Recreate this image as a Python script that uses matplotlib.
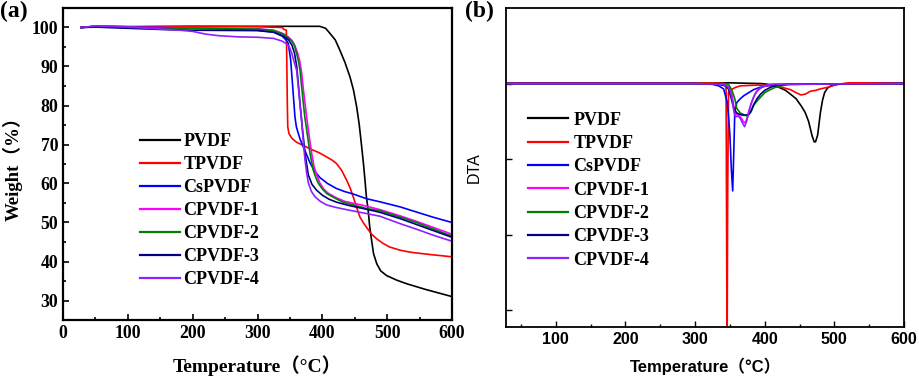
import matplotlib
matplotlib.use("Agg")
import matplotlib.pyplot as plt
from matplotlib.ticker import MultipleLocator, FixedLocator, NullFormatter

# ---------------- data: TGA (panel a) ----------------
labels = ["PVDF", "TPVDF", "CsPVDF", "CPVDF-1", "CPVDF-2", "CPVDF-3", "CPVDF-4"]
colors = ["#000000", "#ff0000", "#0000ff", "#ff00ff", "#008000", "#000080", "#9020ff"]

tga_T_pvdf = [28, 50, 100, 200, 300, 396, 405, 411.7, 420, 427, 435, 442.7, 448, 453, 457, 460.7, 463.5,
              465.8, 468, 470.5, 473, 476, 479, 484, 490, 499, 515, 530, 560, 600]
tga_W_pvdf = [100, 100.3, 100.2, 100.3, 100.3, 100.3, 99.8, 98.5, 96.8, 94.2, 91, 87.3, 84, 79.6, 75,
              69.4, 65, 60.8, 56.5, 53.5, 49, 45.4, 42, 39.4, 37.6, 36.4, 35.2, 34.3, 32.8, 31.0]

tga_T_tpvdf = [28, 50, 100, 200, 300, 338, 341, 344.5, 345.3, 346, 346.7, 348.5, 353, 360, 370, 381, 395,
               406.7, 415, 422, 430, 437.6, 443, 447.8, 453, 458, 463, 468, 476, 484, 494, 504, 520, 535,
               560, 600]
tga_W_tpvdf = [100, 100.3, 100.2, 100.3, 100.2, 100.0, 99.5, 99.3, 90, 80, 74.5, 72.8, 71.6, 70.6, 69.8,
               68.9, 67.9, 66.8, 66, 65.1, 63.3, 60.8, 58.8, 56.5, 53.8, 51.4, 50, 48.8, 47, 45.8, 44.6,
               43.7, 42.9, 42.4, 41.9, 41.2]

tga_T_cs = [28, 50, 100, 150, 200, 250, 300, 325, 338, 344, 347.5, 351.2, 354.3, 357.8, 360, 363, 366,
            370.7, 376, 381, 388, 396.4, 408, 422, 435, 447.8, 468, 489, 520, 545, 570, 600]
tga_W_cs = [100, 100.3, 100.2, 100, 99.8, 99.6, 99.3, 98.8, 97.8, 96.8, 95.9, 91.6, 84.8, 77, 74.5,
            72.8, 71.2, 69.4, 67.3, 65.3, 63.2, 61.5, 60.0, 58.7, 57.9, 57.3, 56.1, 55.3, 54, 52.7,
            51.4, 50.0]

tga_T_c1 = [28, 50, 100, 200, 300, 325, 340, 348, 353, 357, 362, 365, 368, 370.5, 373.3, 376, 379,
            383.6, 387, 391, 396, 402, 409, 422, 435, 460, 489, 520, 545, 570, 600]
tga_W_c1 = [100, 100.3, 100.1, 99.9, 99.7, 99.3, 98.4, 97.5, 96.7, 95.6, 93.4, 91.5, 88.5, 84.5, 80.5,
            76.8, 73, 67.7, 64.5, 62.3, 60.2, 58.6, 57.5, 56.3, 55.4, 54.5, 53.3, 51.7, 50.3, 48.8, 47.0]

tga_T_c2 = [28, 50, 100, 200, 300, 325, 340, 348, 353, 357, 360.4, 363, 365.6, 368, 370.7, 373, 376,
            381, 386, 390, 394, 400, 407, 420, 432, 468, 489, 520, 545, 570, 600]
tga_W_c2 = [100, 100.2, 100, 99.8, 99.6, 99.2, 98.3, 97.3, 96.5, 95.3, 93.3, 91.5, 89, 85, 80.5, 77,
            73.6, 67.7, 63.4, 61.5, 60, 58.6, 57.4, 56.2, 55.2, 53.6, 53.0, 51.4, 50, 48.4, 46.5]

tga_T_c3 = [28, 50, 100, 150, 200, 300, 325, 340, 348, 353, 357, 360.5, 363, 365.6, 369, 373.3, 378.4,
            384, 391, 400, 410, 422, 440, 468, 489, 520, 545, 570, 600]
tga_W_c3 = [100, 100.1, 99.8, 99.5, 99.3, 99.2, 98.8, 97.8, 96.8, 95.5, 93.5, 90, 85.5, 80.5, 74.5,
            67.7, 62.2, 59.8, 58.3, 57, 56, 55.2, 54.4, 53.4, 52.6, 51, 49.5, 48, 46.2]

tga_T_c4 = [28, 50, 100, 150, 180, 200, 220, 240, 270, 300, 325, 338, 345, 349, 352.7, 356, 360.4, 364,
            368, 371, 373.3, 376, 378.4, 383, 388.7, 397, 406.7, 420, 440, 468, 489, 520, 545, 570, 600]
tga_W_c4 = [100, 100.4, 100.1, 99.6, 99.3, 99.0, 98.3, 97.9, 97.6, 97.5, 97.2, 96.5, 95.8, 95, 93.5,
            91.5, 89, 83, 76.2, 70, 66, 62.5, 60.2, 58, 56.6, 55.4, 54.5, 53.9, 53.2, 52.3, 51.6, 49.7,
            48.3, 46.8, 45.2]

# ---------------- data: DTA (panel b) ----------------
dta_T_pvdf = [30, 100, 200, 300, 350, 395, 405, 415, 423, 430, 437, 445, 452, 458, 463, 468, 471, 473,
              476, 480, 483, 486, 490, 495, 505, 520, 600]
dta_D_pvdf = [0.01, 0.01, 0.01, 0.01, 0.01, 0.0, -0.01, -0.03, -0.06, -0.09, -0.14, -0.2, -0.29,
              -0.38, -0.5, -0.69, -0.77, -0.77, -0.68, -0.38, -0.22, -0.12, -0.06, -0.03, -0.01, 0.0, 0.0]

dta_T_tpvdf = [30, 100, 200, 300, 330, 343, 344.5, 345.3, 346, 346.8, 348, 352, 358, 365, 390, 413, 425,
               437, 445, 452, 458, 466, 473, 480, 490, 504, 520, 600]
dta_D_tpvdf = [0.01, 0.01, 0.01, 0.01, 0.01, 0.0, -0.05, -2.0, -3.6, -1.5, -0.12, -0.08, -0.05, -0.03,
               -0.02, -0.03, -0.05, -0.08, -0.12, -0.15, -0.14, -0.1, -0.09, -0.07, -0.05, -0.01, 0.01,
               0.01]

dta_T_cs = [30, 100, 200, 300, 325, 334, 341, 346, 348, 350, 352, 354, 355.6, 357, 360, 365, 370, 377,
            384, 393, 403, 415, 600]
dta_D_cs = [0.0, 0.0, 0.0, 0.0, -0.01, -0.03, -0.07, -0.24, -0.42, -0.68, -1.12, -1.42, -0.9, -0.38,
            -0.25, -0.2, -0.16, -0.12, -0.08, -0.05, -0.03, -0.01, 0.0]

dta_T_c1 = [30, 100, 200, 300, 342, 349, 353, 356, 358, 362, 366, 369, 372, 375, 378, 381, 385, 389,
            394, 400, 410, 600]
dta_D_c1 = [0.0, 0.0, 0.0, 0.0, -0.01, -0.05, -0.15, -0.32, -0.4, -0.42, -0.45, -0.5, -0.52, -0.45,
            -0.34, -0.25, -0.16, -0.1, -0.06, -0.03, -0.01, 0.0]

dta_T_c2 = [30, 100, 200, 300, 340, 348, 353, 357, 360, 365, 370, 375, 380, 384, 389, 394, 400, 408,
            415, 423, 435, 600]
dta_D_c2 = [0.0, 0.0, 0.0, 0.0, 0.0, -0.01, -0.09, -0.2, -0.33, -0.39, -0.41, -0.43, -0.38, -0.29,
            -0.23, -0.18, -0.12, -0.08, -0.05, -0.03, -0.01, 0.0]

dta_T_c3 = [30, 100, 200, 300, 335, 343, 348, 352, 355.6, 360, 365, 370, 377, 381, 384, 389, 394, 400,
            408, 418, 430, 600]
dta_D_c3 = [0.0, 0.0, 0.0, 0.0, -0.01, -0.03, -0.07, -0.2, -0.33, -0.39, -0.41, -0.42, -0.41, -0.35,
            -0.28, -0.2, -0.14, -0.09, -0.05, -0.02, -0.01, 0.0]

dta_T_c4 = [30, 100, 200, 300, 340, 347, 351, 354, 356, 358, 362, 365, 368, 371, 374, 377, 380, 384,
            387, 392, 398, 408, 600]
dta_D_c4 = [0.0, 0.0, 0.0, 0.0, -0.01, -0.04, -0.1, -0.25, -0.38, -0.44, -0.43, -0.46, -0.52, -0.57,
            -0.5, -0.38, -0.28, -0.18, -0.12, -0.07, -0.04, -0.01, 0.0]

tga_T = [tga_T_pvdf, tga_T_tpvdf, tga_T_cs, tga_T_c1, tga_T_c2, tga_T_c3, tga_T_c4]
tga_W = [tga_W_pvdf, tga_W_tpvdf, tga_W_cs, tga_W_c1, tga_W_c2, tga_W_c3, tga_W_c4]
dta_T = [dta_T_pvdf, dta_T_tpvdf, dta_T_cs, dta_T_c1, dta_T_c2, dta_T_c3, dta_T_c4]
dta_D = [dta_D_pvdf, dta_D_tpvdf, dta_D_cs, dta_D_c1, dta_D_c2, dta_D_c3, dta_D_c4]

xticks_a = [0, 100, 200, 300, 400, 500, 600]
yticks_a = [30, 40, 50, 60, 70, 80, 90, 100]
xticks_b = [100, 200, 300, 400, 500, 600]
yticks_b = [-3, -2, -1, 0]

SERIF = ["Liberation Serif", "Noto Sans CJK SC", "DejaVu Sans"]
SANS = ["Liberation Sans", "Noto Sans CJK SC", "DejaVu Sans"]

fig = plt.figure(figsize=(9.2, 3.78), dpi=100)
W, H = 920, 378
axa = fig.add_axes([63 / W, 1 - 320 / H, (452 - 63) / W, (320 - 8) / H])
axb = fig.add_axes([506 / W, 1 - 327 / H, (904 - 506) / W, (327 - 8) / H])

for T, Y, c, lab in zip(tga_T, tga_W, colors, labels):
    axa.plot(T, Y, color=c, lw=1.2, label=lab)
for T, Y, c, lab in zip(dta_T, dta_D, colors, labels):
    axb.plot(T, Y, color=c, lw=1.2, label=lab)

# panel a styling
axa.set_xlim(0, 600)
axa.set_ylim(25, 105)
axa.xaxis.set_major_locator(FixedLocator(xticks_a))
axa.yaxis.set_major_locator(FixedLocator(yticks_a))
axa.xaxis.set_minor_locator(MultipleLocator(50))
axa.yaxis.set_minor_locator(MultipleLocator(5))
axa.tick_params(which="both", direction="in", width=1.2)
axa.tick_params(which="major", length=4)
axa.tick_params(which="minor", length=2.5)
for lbl in axa.get_xticklabels() + axa.get_yticklabels():
    lbl.set_family(SERIF)
    lbl.set_fontweight("bold")
    lbl.set_fontsize(12.8)
for s in axa.spines.values():
    s.set_linewidth(1.6)
axa.set_xlabel("Temperature（°C）", family=SERIF, fontweight="bold", fontsize=14, labelpad=10)
axa.set_ylabel("Weight（%）", family=SERIF, fontweight="bold", fontsize=13.5, labelpad=6)
leg_a = axa.legend(loc="upper left", bbox_to_anchor=(0.198, 0.598), frameon=False,
                   prop={"family": SERIF, "weight": "bold", "size": 13},
                   handlelength=2.2, handletextpad=0.2, labelspacing=0.33,
                   borderpad=0, borderaxespad=0)
for h in leg_a.get_lines():
    h.set_linewidth(1.6)

# panel b styling
axb.set_xlim(28.5, 600)
axb.set_ylim(-3.22, 1.0)
axb.xaxis.set_major_locator(FixedLocator(xticks_b))
axb.xaxis.set_minor_locator(MultipleLocator(50))
axb.yaxis.set_major_locator(FixedLocator(yticks_b))
axb.yaxis.set_major_formatter(NullFormatter())
axb.tick_params(which="both", direction="in", width=1.0)
axb.tick_params(which="major", length=4)
axb.tick_params(which="minor", length=2.5)
for lbl in axb.get_xticklabels():
    lbl.set_family(SANS)
    lbl.set_fontweight("bold")
    lbl.set_fontsize(11.5)
for s in axb.spines.values():
    s.set_linewidth(1.3)
axb.set_xlabel("Temperature（°C）", family=SANS, fontweight="bold", fontsize=12, labelpad=8)
axb.set_ylabel("DTA", family=SANS, fontsize=11.5, labelpad=14)
leg_b = axb.legend(loc="upper left", bbox_to_anchor=(0.055, 0.675), frameon=False,
                   prop={"family": SERIF, "weight": "bold", "size": 13},
                   handlelength=2.2, handletextpad=0.33, labelspacing=0.35,
                   borderpad=0, borderaxespad=0)
for h in leg_b.get_lines():
    h.set_linewidth(1.6)

fig.text(0.0, 0.998, "(a)", family=SERIF, fontweight="bold", fontsize=17, va="top", ha="left")
fig.text(465 / W, 0.998, "(b)", family=SERIF, fontweight="bold", fontsize=17, va="top", ha="left")

fig.savefig("out.png", dpi=100)
